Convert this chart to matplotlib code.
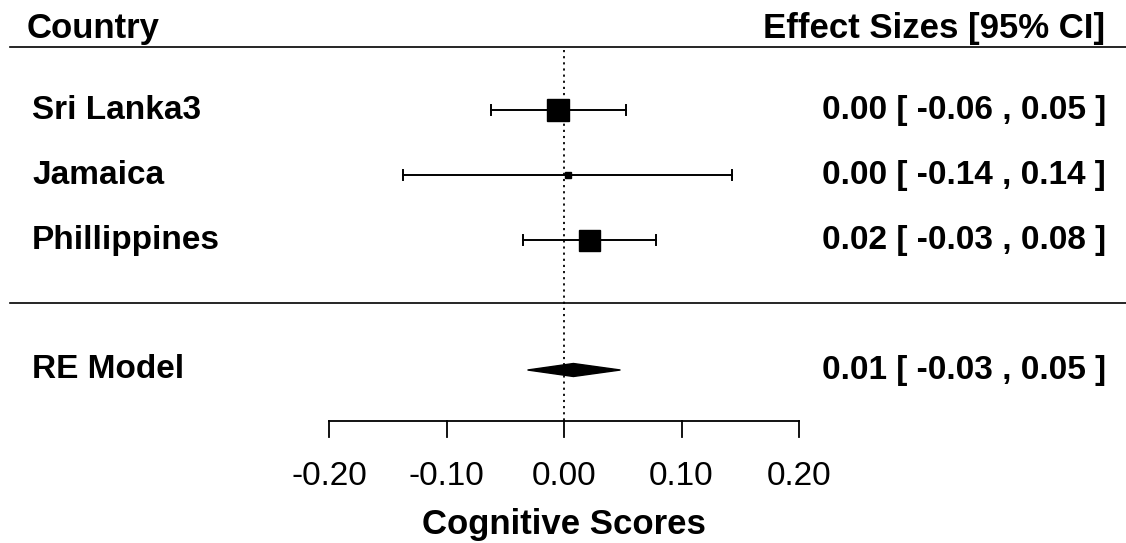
import matplotlib.pyplot as plt
from matplotlib.patches import Polygon

plt.rcParams['font.family'] = ['Liberation Sans', 'DejaVu Sans']

countries = ['Sri Lanka3', 'Jamaica', 'Phillippines']
est = [-0.005, 0.003, 0.021]
ci_lo = [-0.062, -0.137, -0.035]
ci_hi = [0.053, 0.143, 0.078]
weights = [23, 6, 21]  # square side in px, roughly from the picture
labels = ['0.00 [ -0.06 , 0.05 ]', '0.00 [ -0.14 , 0.14 ]', '0.02 [ -0.03 , 0.08 ]']

re_est = 0.008
re_lo = -0.031
re_hi = 0.048
re_label = '0.01 [ -0.03 , 0.05 ]'

xticks = [-0.20, -0.10, 0.00, 0.10, 0.20]
xtick_labels = ['-0.20', '-0.10', '0.00', '0.10', '0.20']

W, H = 1126, 543
fig = plt.figure(figsize=(W / 100, H / 100), dpi=100)
ax = fig.add_axes([0, 0, 1, 1])
ax.axis('off')

# map effect units to pixels: -0.2 -> 329px, 0.2 -> 799px
scale = (799 - 329) / 0.4
x0 = -0.2 - 329 / scale
ax.set_xlim(x0, x0 + W / scale)
# rows: 65 px apart, row 5 at y=110px
rowpx = 65
ax.set_ylim(5 - (H - 110) / rowpx, 5 + 110 / rowpx)


def px2x(p):
    return x0 + p / scale


def py2y(p):
    return 5 - (p - 110) / rowpx


rows = [5, 4, 3]
re_row = 1
fs = 24

# header
ax.text(px2x(27), py2y(38), 'Country', fontsize=25, fontweight='bold', va='baseline', ha='left')
ax.text(px2x(1105), py2y(38), 'Effect Sizes [95% CI]', fontsize=25, fontweight='bold', va='baseline', ha='right')
ax.plot([px2x(10), px2x(W)], [py2y(47)] * 2, color='black', lw=1.2)
ax.plot([px2x(10), px2x(W)], [py2y(303)] * 2, color='black', lw=1.2)

# reference line at zero
ax.plot([0, 0], [py2y(50), py2y(420)], color='black', lw=1.3, ls=(0, (1.2, 2.2)))

cap = 0.07
for r, c, e, lo, hi, w, lab in zip(rows, countries, est, ci_lo, ci_hi, weights, labels):
    ax.plot([lo, hi], [r, r], color='black', lw=1.4)
    ax.plot([lo, lo], [r - cap, r + cap], color='black', lw=1.4)
    ax.plot([hi, hi], [r - cap, r + cap], color='black', lw=1.4)
    ax.plot([e], [r], marker='s', color='black', markersize=w * 0.72, ls='none')
    ax.text(px2x(32), r, c, fontsize=fs, fontweight='bold', va='center', ha='left')
    ax.text(px2x(1106), r, lab, fontsize=fs, fontweight='bold', va='center', ha='right')

# summary diamond
dh = 6.5 / rowpx
diamond = Polygon([[re_lo, re_row], [re_est, re_row + dh], [re_hi, re_row], [re_est, re_row - dh]],
                  closed=True, color='black')
ax.add_patch(diamond)
ax.text(px2x(32), re_row, 'RE Model', fontsize=fs, fontweight='bold', va='center', ha='left')
ax.text(px2x(1106), re_row, re_label, fontsize=fs, fontweight='bold', va='center', ha='right')

# x axis
ya = py2y(421)
ax.plot([xticks[0], xticks[-1]], [ya, ya], color='black', lw=1.3)
for t, tl in zip(xticks, xtick_labels):
    ax.plot([t, t], [ya, py2y(437)], color='black', lw=1.3)
    ax.text(t, py2y(485), tl, fontsize=fs, va='baseline', ha='center')
ax.text(0, py2y(534), 'Cognitive Scores', fontsize=25, fontweight='bold', va='baseline', ha='center')

fig.savefig('out.png', dpi=100)
